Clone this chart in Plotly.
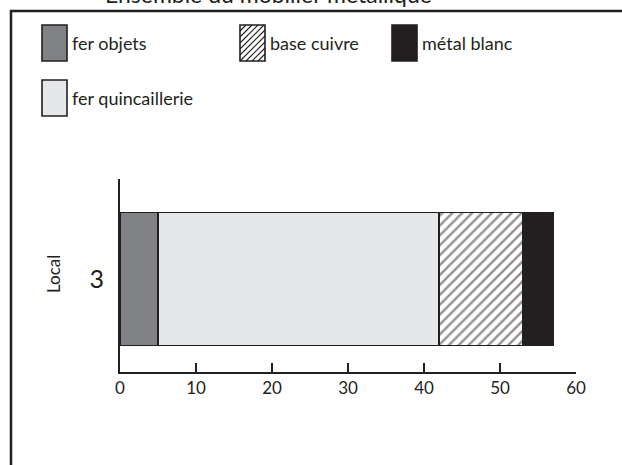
import plotly.graph_objects as go

# Canvas size in pixels
W, H = 622, 465

# Data
categories = ["3"]
fer_objets = [5]
fer_quincaillerie = [37]
base_cuivre = [11]
metal_blanc = [4]
x_tick_values = [0, 10, 20, 30, 40, 50, 60]

series = [
    ("fer objets", fer_objets),
    ("fer quincaillerie", fer_quincaillerie),
    ("base cuivre", base_cuivre),
    ("métal blanc", metal_blanc),
]

INK = "#231f20"
FONT = "Lato"
styles = {
    "fer objets": dict(color="#808285"),
    "fer quincaillerie": dict(color="#e6e7e8"),
    "base cuivre": dict(color="white",
                        pattern=dict(shape="/", fgcolor=INK, size=7, solidity=0.33)),
    "métal blanc": dict(color=INK),
}


def px(x, y):
    """Convert pixel position (from top-left) to paper coordinates."""
    return x / W, 1 - y / H


fig = go.Figure()
for name, values in series:
    fig.add_trace(go.Bar(
        y=categories, x=values, name=name, orientation="h",
        marker=dict(**styles[name], line=dict(color=INK, width=1.6)),
        width=0.69, showlegend=False,
    ))

# Plot area placement (pixels)
PL, PR, PT, PB = 120, 576, 179, 372

shapes = []
annotations = []

# Outer frame (left and top edges)
x0, y0 = px(11, 11)
xb, yb = px(11, H + 10)
xr, _ = px(W + 10, 11)
shapes.append(dict(type="path", xref="paper", yref="paper",
                   path=f"M {xb} {yb} L {x0} {y0} L {xr} {y0}",
                   line=dict(color=INK, width=2.5)))

# Legend swatches
legend_items = [
    ("fer objets", 42, 25),
    ("base cuivre", 240, 25),
    ("métal blanc", 392, 25),
    ("fer quincaillerie", 42, 80),
]
SW, SH = 25, 36
for name, lx, ly in legend_items:
    st = styles[name]
    ax0, ay0 = px(lx, ly)
    ax1, ay1 = px(lx + SW, ly + SH)
    shapes.append(dict(type="rect", xref="paper", yref="paper",
                       x0=ax0, y0=ay1, x1=ax1, y1=ay0,
                       fillcolor=st["color"], line=dict(color=INK, width=1.6)))
    if "pattern" in st:
        # diagonal hatching clipped to the swatch box
        step = 6
        segs = []
        c = -SH
        while c < SW:
            t0 = max(0, -c)
            t1 = min(SH, SW - c)
            if t1 > t0:
                sx0, sy0 = px(lx + c + t0, ly + SH - t0)
                sx1, sy1 = px(lx + c + t1, ly + SH - t1)
                segs.append(f"M {sx0} {sy0} L {sx1} {sy1}")
            c += step
        shapes.append(dict(type="path", xref="paper", yref="paper",
                           path=" ".join(segs), line=dict(color=INK, width=1.1)))
    tx, ty = px(lx + SW + 3, ly + SH / 2)
    annotations.append(dict(xref="paper", yref="paper", x=tx, y=ty,
                            xanchor="left", yanchor="middle", showarrow=False,
                            text=name, font=dict(family=FONT, size=18, color=INK)))

# Title (partly above the canvas edge)
tx, ty = px(268, -6)
annotations.append(dict(xref="paper", yref="paper", x=tx, y=ty,
                        xanchor="center", yanchor="middle", showarrow=False,
                        text="Ensemble du mobilier métallique",
                        font=dict(family=FONT, size=23, color=INK)))

# Y-axis title
tx, ty = px(53, 274)
annotations.append(dict(xref="paper", yref="paper", x=tx, y=ty,
                        xanchor="center", yanchor="middle", showarrow=False,
                        textangle=-90, text="Local",
                        font=dict(family=FONT, size=17, color=INK)))

fig.update_layout(
    width=W, height=H,
    margin=dict(l=0, r=0, t=0, b=0),
    paper_bgcolor="white", plot_bgcolor="white",
    barmode="stack",
    shapes=shapes,
    annotations=annotations,
    xaxis=dict(
        domain=[PL / W, PR / W], range=[0, 60], autorange=False,
        tickvals=x_tick_values, ticks="inside", ticklen=9, tickwidth=2,
        tickcolor=INK, showline=True, linecolor=INK, linewidth=2,
        showgrid=False, zeroline=False, automargin=False,
        tickfont=dict(family=FONT, size=17, color=INK),
    ),
    yaxis=dict(
        domain=[1 - PB / H, 1 - PT / H], range=[-0.482, 0.518], autorange=False,
        type="category", ticks="", showline=True, linecolor=INK, linewidth=2,
        showgrid=False, zeroline=False, automargin=False,
        ticklabelstandoff=9,
        tickfont=dict(family=FONT, size=25, color=INK),
    ),
)

fig.write_html("out.html")
